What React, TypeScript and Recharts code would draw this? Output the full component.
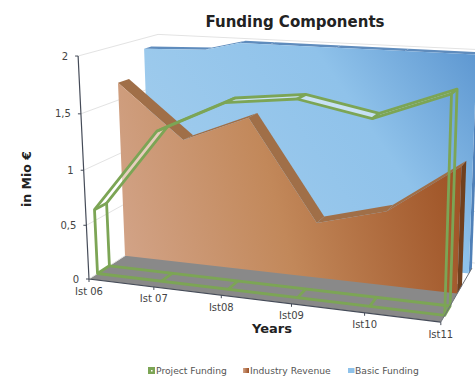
import React from 'react';
import { ComposedChart, Line, XAxis, YAxis } from 'recharts';

const WIDTH = 475;
const HEIGHT = 376;
const FONT = '"DejaVu Sans", sans-serif';
const AXIS_MAX = 2;

const years = ['Ist 06', 'Ist 07', 'Ist08', 'Ist09', 'Ist10', 'Ist11'];
const projectFunding = [0.6, 1.36, 1.65, 1.72, 1.6, 1.84];
const industryRevenue = [1.66, 1.17, 1.42, 0.51, 0.68, 1.13];
const basicFunding = [1.9, 1.92, 2.07, 2.05, 2.05, 2.05];
const valueTicks = [0, 0.5, 1, 1.5, 2];

const rows = years.map((year, i) => ({
    year,
    project: projectFunding[i],
    industry: industryRevenue[i],
    basic: basicFunding[i],
}));

type Pt = { x: number; y: number };
type ModelPt = { u: number; h: number };

// perspective camera: origin plus the three vanishing points with their weights
const ORIGIN = [89, 279];
const VAN_X = [-3224, -127];
const VAN_H = [308, 4750];
const VAN_Z = [690, -110];
const WEIGHT_X = -0.096;
const WEIGHT_H = -0.02375;
const WEIGHT_Z = 0.1431;

const project = (u: number, h: number, z: number): Pt => {
    const a = u * WEIGHT_X;
    const b = h * WEIGHT_H;
    const c = z * WEIGHT_Z;
    const d = 1 + a + b + c;
    return {
        x: (ORIGIN[0] + a * VAN_X[0] + b * VAN_H[0] + c * VAN_Z[0]) / d,
        y: (ORIGIN[1] + a * VAN_X[1] + b * VAN_H[1] + c * VAN_Z[1]) / d,
    };
};

const toPath = (pts: Pt[], close = true) =>
    pts.map((p, i) => `${i ? 'L' : 'M'}${p.x.toFixed(1)} ${p.y.toFixed(1)}`).join(' ') + (close ? ' Z' : '');

// the Line lays its points out on a flat plot; read them back as chart units
const toModel = (points: Pt[]): ModelPt[] =>
    points.map((p) => ({ u: p.x / WIDTH, h: ((HEIGHT - p.y) / HEIGHT) * AXIS_MAX }));

// values past the axis maximum get cut off at the top of the box
const clipTop = (model: ModelPt[]) => {
    const out: ModelPt[] = [];
    model.forEach((m, i) => {
        const prev = model[i - 1];
        if (prev && prev.h < AXIS_MAX !== m.h < AXIS_MAX) {
            const t = (AXIS_MAX - prev.h) / (m.h - prev.h);
            out.push({ u: prev.u + t * (m.u - prev.u), h: AXIS_MAX });
        }
        out.push({ u: m.u, h: Math.min(m.h, AXIS_MAX) });
    });
    return out;
};

const Backdrop = () => (
    <g>
        <path
            d={toPath([project(0, 0, 0), project(1, 0, 0), project(1, 0, 0.6), project(0, 0, 0.6)])}
            fill="#898989"
        />
        {valueTicks.map((t) => (
            <path
                key={t}
                d={toPath([project(0, t, 0), project(0, t, 1), project(1, t, 1)], false)}
                fill="none"
                stroke="#e3e3e3"
                strokeWidth={1}
            />
        ))}
    </g>
);

interface WallProps {
    points: Pt[];
    front: number;
    back: number;
    face: string;
    strip: string;
    side: string;
}

const Wall = ({ points, front, back, face, strip, side }: WallProps) => {
    const model = clipTop(toModel(points));
    const last = model[model.length - 1];
    const outline = [
        project(model[0].u, 0, front),
        ...model.map((m) => project(m.u, m.h, front)),
        project(last.u, 0, front),
    ];
    return (
        <g>
            <path
                d={toPath([
                    project(last.u, 0, front),
                    project(last.u, last.h, front),
                    project(last.u, last.h, back),
                    project(last.u, 0, back),
                ])}
                fill={side}
            />
            {model.slice(1).map((m, i) => (
                <path
                    key={i}
                    d={toPath([
                        project(model[i].u, model[i].h, front),
                        project(m.u, m.h, front),
                        project(m.u, m.h, back),
                        project(model[i].u, model[i].h, back),
                    ])}
                    fill={strip}
                />
            ))}
            <path d={toPath(outline)} fill={face} />
        </g>
    );
};

const GREEN = '#7ca555';

// Project Funding is only a wire frame with a pale top
const Frame = ({ points }: { points: Pt[] }) => {
    const model = toModel(points);
    const first = model[0];
    const last = model[model.length - 1];
    const front = 0.1;
    const back = 0.245;
    const loop = (z: number) =>
        toPath([
            project(first.u, 0, z),
            ...model.map((m) => project(m.u, m.h, z)),
            project(last.u, 0, z),
        ]);
    const wire = { fill: 'none', stroke: GREEN, strokeWidth: 2.8, strokeLinejoin: 'round' as const };
    return (
        <g>
            {model.slice(1).map((m, i) => (
                <path
                    key={i}
                    d={toPath([
                        project(model[i].u, model[i].h, front),
                        project(m.u, m.h, front),
                        project(m.u, m.h, back),
                        project(model[i].u, model[i].h, back),
                    ])}
                    fill="#ffffff"
                    fillOpacity={0.5}
                />
            ))}
            <path d={loop(back)} {...wire} />
            {model.map((m, i) => (
                <g key={i}>
                    <path d={toPath([project(m.u, 0, front), project(m.u, 0, back)], false)} {...wire} />
                    <path d={toPath([project(m.u, m.h, front), project(m.u, m.h, back)], false)} {...wire} />
                </g>
            ))}
            <path d={loop(front)} {...wire} />
        </g>
    );
};

const Axes = () => (
    <g fill="none" stroke="#454b58" strokeWidth={1.2}>
        <path d={toPath([project(0, AXIS_MAX, 0), project(0, 0, 0), project(1, 0, 0)], false)} />
        <path d={toPath([project(1, 0, 0), project(1, 0, 0.6), project(1, 0, 0.9)], false)} stroke="#6b7078" strokeWidth={1} />
    </g>
);

const renderBasic = (props: any) =>
    props.index === 0 ? (
        <g key="basic">
            <defs>
                <linearGradient id="basicFace" gradientUnits="userSpaceOnUse" x1="150" y1="270" x2="480" y2="40">
                    <stop offset="0%" stopColor="#a5cfee" />
                    <stop offset="65%" stopColor="#8fc2ea" />
                    <stop offset="100%" stopColor="#5a94cf" />
                </linearGradient>
                <linearGradient id="industryFace" gradientUnits="userSpaceOnUse" x1="125" y1="260" x2="470" y2="170">
                    <stop offset="0%" stopColor="#d2a387" />
                    <stop offset="45%" stopColor="#c2885a" />
                    <stop offset="100%" stopColor="#9c4f22" />
                </linearGradient>
                <linearGradient id="industryKey" x1="0" y1="0" x2="1" y2="0">
                    <stop offset="0%" stopColor="#d2a387" />
                    <stop offset="100%" stopColor="#9c4f22" />
                </linearGradient>
            </defs>
            <Backdrop />
            <Wall points={props.points} front={0.8} back={0.9} face="url(#basicFace)" strip="#5f8cbd" side="#4f80b8" />
        </g>
    ) : (
        <g key={props.index} />
    );

const renderIndustry = (props: any) =>
    props.index === 0 ? (
        <Wall key="industry" points={props.points} front={0.4455} back={0.586} face="url(#industryFace)" strip="#a06f48" side="#70401e" />
    ) : (
        <g key={props.index} />
    );

const renderProject = (props: any) =>
    props.index === 0 ? (
        <g key="project">
            <Frame points={props.points} />
            <Axes />
        </g>
    ) : (
        <g key={props.index} />
    );

const YearTick = ({ x, payload }: any) => {
    const p = project(x / WIDTH, 0, 0);
    return (
        <g>
            <line x1={p.x} y1={p.y} x2={p.x} y2={p.y + 3} stroke="#454b58" />
            <text x={p.x} y={p.y + 15.5} textAnchor="middle" fontFamily={FONT} fontSize={10} fill="#444">
                {payload.value}
            </text>
        </g>
    );
};

const ValueTick = ({ y, payload }: any) => {
    const p = project(0, ((HEIGHT - y) / HEIGHT) * AXIS_MAX, 0);
    return (
        <g>
            <line x1={p.x - 3} y1={p.y} x2={p.x} y2={p.y} stroke="#454b58" />
            <text x={p.x - 10} y={p.y + 3.5} textAnchor="end" fontFamily={FONT} fontSize={10} fill="#444">
                {String(payload.value).replace('.', ',')}
            </text>
        </g>
    );
};

const App = () => (
    <div style={{ position: 'absolute', left: 0, top: 0, width: WIDTH, height: HEIGHT }}>
        <ComposedChart width={WIDTH} height={HEIGHT} data={rows} margin={{ top: 0, right: 0, bottom: -1, left: -1 }}>
            <XAxis dataKey="year" scale="point" height={1} interval={0} axisLine={false} tickLine={false} tick={YearTick} />
            <YAxis domain={[0, AXIS_MAX]} allowDataOverflow ticks={valueTicks} width={1} interval={0} axisLine={false} tickLine={false} tick={ValueTick} />
            <Line dataKey="basic" stroke="none" isAnimationActive={false} dot={renderBasic} />
            <Line dataKey="industry" stroke="none" isAnimationActive={false} dot={renderIndustry} />
            <Line dataKey="project" stroke="none" isAnimationActive={false} dot={renderProject} />
            <text x={295} y={27} textAnchor="middle" fontFamily={FONT} fontSize={15} fontWeight="bold" fill="#222">
                Funding Components
            </text>
            <text x={272} y={333} textAnchor="middle" fontFamily={FONT} fontSize={13} fontWeight="bold" fill="#222">
                Years
            </text>
            <text transform="translate(31 179) rotate(-90)" textAnchor="middle" fontFamily={FONT} fontSize={12.5} fontWeight="bold" fill="#222">
                in Mio €
            </text>
            <rect x={148} y={367} width={7} height={7} fill={GREEN} />
            <rect x={151} y={370} width={1.5} height={1.5} fill="#ffffff" />
            <text x={156} y={374} fontFamily={FONT} fontSize={9.2} fill="#555">Project Funding</text>
            <rect x={243} y={368} width={6} height={5} fill="url(#industryKey)" />
            <text x={250} y={374} fontFamily={FONT} fontSize={9.2} fill="#555">Industry Revenue</text>
            <rect x={348} y={368} width={6.5} height={5} fill="#8fc2ea" />
            <text x={355} y={374} fontFamily={FONT} fontSize={9.2} fill="#555">Basic Funding</text>
        </ComposedChart>
    </div>
);

export default App;
